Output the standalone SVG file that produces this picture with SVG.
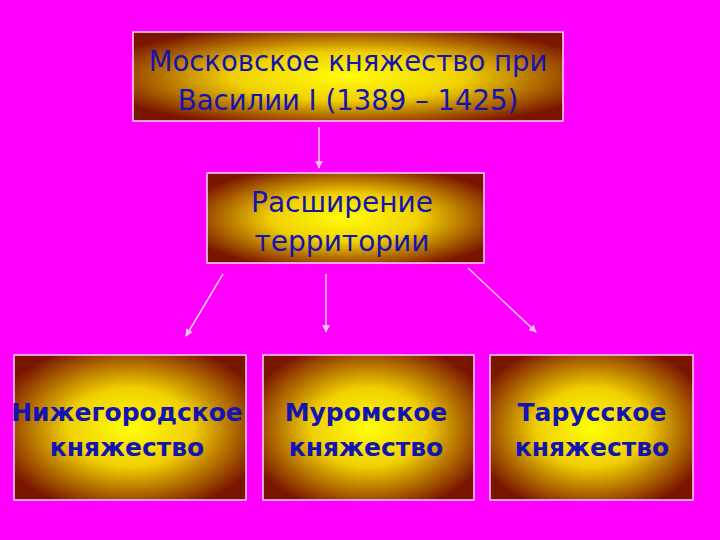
<svg xmlns="http://www.w3.org/2000/svg" width="720" height="540" viewBox="0 0 720 540">
<defs>
<radialGradient id="g" cx="0.5" cy="0.5" r="0.6">
<stop offset="0" stop-color="#ffff00"/>
<stop offset="0.45" stop-color="#f0d000"/>
<stop offset="1" stop-color="#7a1500"/>
</radialGradient>
<marker id="a" viewBox="0 0 10 10" refX="9" refY="5" markerWidth="5" markerHeight="5" orient="auto"><path d="M0,0L10,5L0,10z" fill="#ffc8ff"/></marker>
<style>
.b{fill:url(#g);stroke:#ffd0ff;stroke-width:1.5}
.t{font-family:"DejaVu Sans",sans-serif;fill:#1414b0;text-anchor:middle;font-size:27.5px}
.tm{font-family:"DejaVu Sans",sans-serif;fill:#1414b0;text-anchor:middle;font-size:28px}
.tb{font-family:"DejaVu Sans",sans-serif;fill:#1414b0;text-anchor:middle;font-size:25px;font-weight:bold}
.c{stroke:#ffc8ff;stroke-width:1.5;fill:none;marker-end:url(#a)}
</style>
</defs>
<rect width="720" height="540" fill="#ff00ff"/>
<g id="connectors">
<line class="c" x1="319" y1="127" x2="319" y2="168"/>
<line class="c" x1="223" y1="274" x2="186" y2="336"/>
<line class="c" x1="326" y1="274" x2="326" y2="332"/>
<line class="c" x1="468" y1="268" x2="536" y2="332"/>
</g>
<g id="n1"><rect class="b" x="133" y="32" width="430" height="89"/>
<text class="t" x="348" y="71">Московское княжество при</text>
<text class="t" x="348" y="110">Василии I (1389 – 1425)</text></g>
<g id="n2"><rect class="b" x="207" y="173" width="277" height="90"/>
<text class="tm" x="342" y="212">Расширение</text>
<text class="tm" x="342" y="251">территории</text></g>
<g id="n3"><rect class="b" x="14" y="355" width="232" height="145"/>
<text class="tb" x="127" y="421">Нижегородское</text>
<text class="tb" x="127" y="456">княжество</text></g>
<g id="n4"><rect class="b" x="263" y="355" width="211" height="145"/>
<text class="tb" x="366" y="421">Муромское</text>
<text class="tb" x="366" y="456">княжество</text></g>
<g id="n5"><rect class="b" x="490" y="355" width="203" height="145"/>
<text class="tb" x="592" y="421">Тарусское</text>
<text class="tb" x="592" y="456">княжество</text></g>
</svg>
